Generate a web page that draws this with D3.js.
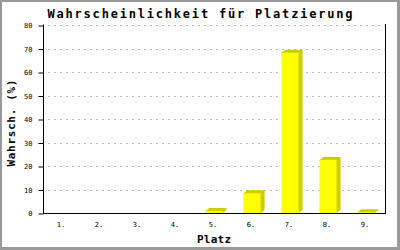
<!DOCTYPE html>
<html lang="de">
<head>
    <meta charset="UTF-8">
    <title>Platzierung</title>
    <style>
        body { margin: 0; }
        svg { display: block; }
    </style>
</head>
<body>
    <div id="graph"></div>
    <script src="https://d3js.org/d3.v7.min.js"></script>
    <script>
        // Daten
        const CATEGORIES = ["1.", "2.", "3.", "4.", "5.", "6.", "7.", "8.", "9."];
        const VALUES = [0, 0, 0, 0, 0.9, 8.4, 68.2, 22.6, 0.3];
        const Y_TICKS = [0, 10, 20, 30, 40, 50, 60, 70, 80];

        const WIDTH = 400;
        const HEIGHT = 250;
        const LEFT = 43, RIGHT = 385, TOP = 25, BOTTOM = 213;
        const DX = 4, DY = 3;      // 3D-Schatten
        const FONT = "'DejaVu Sans Mono', monospace";

        const xScale = d3.scaleBand()
            .domain(CATEGORIES)
            .range([LEFT, RIGHT]);

        const yScale = d3.scaleLinear()
            .domain([0, 80])
            .range([BOTTOM, TOP]);

        const svg = d3.select("#graph")
            .append("svg")
            .attr("width", WIDTH)
            .attr("height", HEIGHT);

        // Rahmen
        svg.append("rect")
            .attr("width", WIDTH).attr("height", HEIGHT)
            .attr("fill", "#999999");
        svg.append("rect")
            .attr("x", 2).attr("y", 2)
            .attr("width", WIDTH - 5).attr("height", HEIGHT - 5)
            .attr("fill", "#ffffff");

        // Gitterlinien
        svg.append("g")
            .selectAll("line")
            .data(Y_TICKS.filter(d => d > 0))
            .join("line")
            .attr("x1", LEFT + 1)
            .attr("x2", RIGHT)
            .attr("y1", d => Math.round(yScale(d)) + 0.5)
            .attr("y2", d => Math.round(yScale(d)) + 0.5)
            .attr("stroke", "#bbbbbb")
            .attr("stroke-dasharray", "2,4")
            .attr("stroke-dashoffset", -4);

        // Balken mit Schatten
        const barW = xScale.bandwidth() * 0.45;
        const bars = svg.append("g")
            .selectAll("g")
            .data(CATEGORIES.map((c, i) => ({ c, v: VALUES[i] })).filter(d => d.v > 0))
            .join("g");

        bars.append("path")
            .attr("fill", "#cccc00")
            .attr("d", d => {
                const x0 = xScale(d.c) + (xScale.bandwidth() - barW) / 2;
                const x1 = x0 + barW;
                const y = yScale(d.v);
                return `M${x0},${y} L${x0 + DX},${y - DY} L${x1 + DX},${y - DY} L${x1 + DX},${BOTTOM - DY} L${x1},${BOTTOM} Z`;
            });

        bars.append("rect")
            .attr("fill", "#ffff00")
            .attr("x", d => xScale(d.c) + (xScale.bandwidth() - barW) / 2)
            .attr("y", d => yScale(d.v))
            .attr("width", barW)
            .attr("height", d => BOTTOM - yScale(d.v));

        // Achsen
        const yAxis = svg.append("g")
            .attr("transform", `translate(${LEFT + 0.5}, 0.5)`)
            .call(d3.axisLeft(yScale).tickValues(Y_TICKS).tickSize(5).tickPadding(6));
        yAxis.select(".domain").attr("d", `M0,${TOP - 1}V${BOTTOM}`);
        yAxis.selectAll("text")
            .attr("font-family", FONT)
            .attr("font-size", 7)
            .attr("fill", "#000");

        const xAxis = svg.append("g")
            .attr("transform", `translate(0, ${BOTTOM + 0.5})`)
            .call(d3.axisBottom(xScale).tickSize(0).tickPadding(9));
        xAxis.select(".domain").attr("d", `M${LEFT},0H${RIGHT + 1}`);
        xAxis.selectAll("text")
            .attr("font-family", FONT)
            .attr("font-size", 7)
            .attr("dx", -1)
            .attr("fill", "#000");

        // rechte Begrenzung
        svg.append("line")
            .attr("x1", RIGHT + 0.5).attr("x2", RIGHT + 0.5)
            .attr("y1", TOP - 1).attr("y2", BOTTOM)
            .attr("stroke", "#000");

        // Titel
        svg.append("text")
            .attr("x", 200).attr("y", 18)
            .attr("text-anchor", "middle")
            .attr("font-family", FONT)
            .attr("font-weight", "bold")
            .attr("font-size", 12)
            .attr("textLength", 305)
            .text("Wahrscheinlichkeit für Platzierung");

        svg.append("text")
            .attr("x", (LEFT + RIGHT) / 2).attr("y", 243)
            .attr("text-anchor", "middle")
            .attr("font-family", FONT)
            .attr("font-weight", "bold")
            .attr("font-size", 11)
            .attr("textLength", 34)
            .text("Platz");

        svg.append("text")
            .attr("transform", "translate(15, 123) rotate(-90)")
            .attr("text-anchor", "middle")
            .attr("font-family", FONT)
            .attr("font-weight", "bold")
            .attr("font-size", 11)
            .attr("textLength", 87)
            .text("Wahrsch. (%)");
    </script>
</body>
</html>
